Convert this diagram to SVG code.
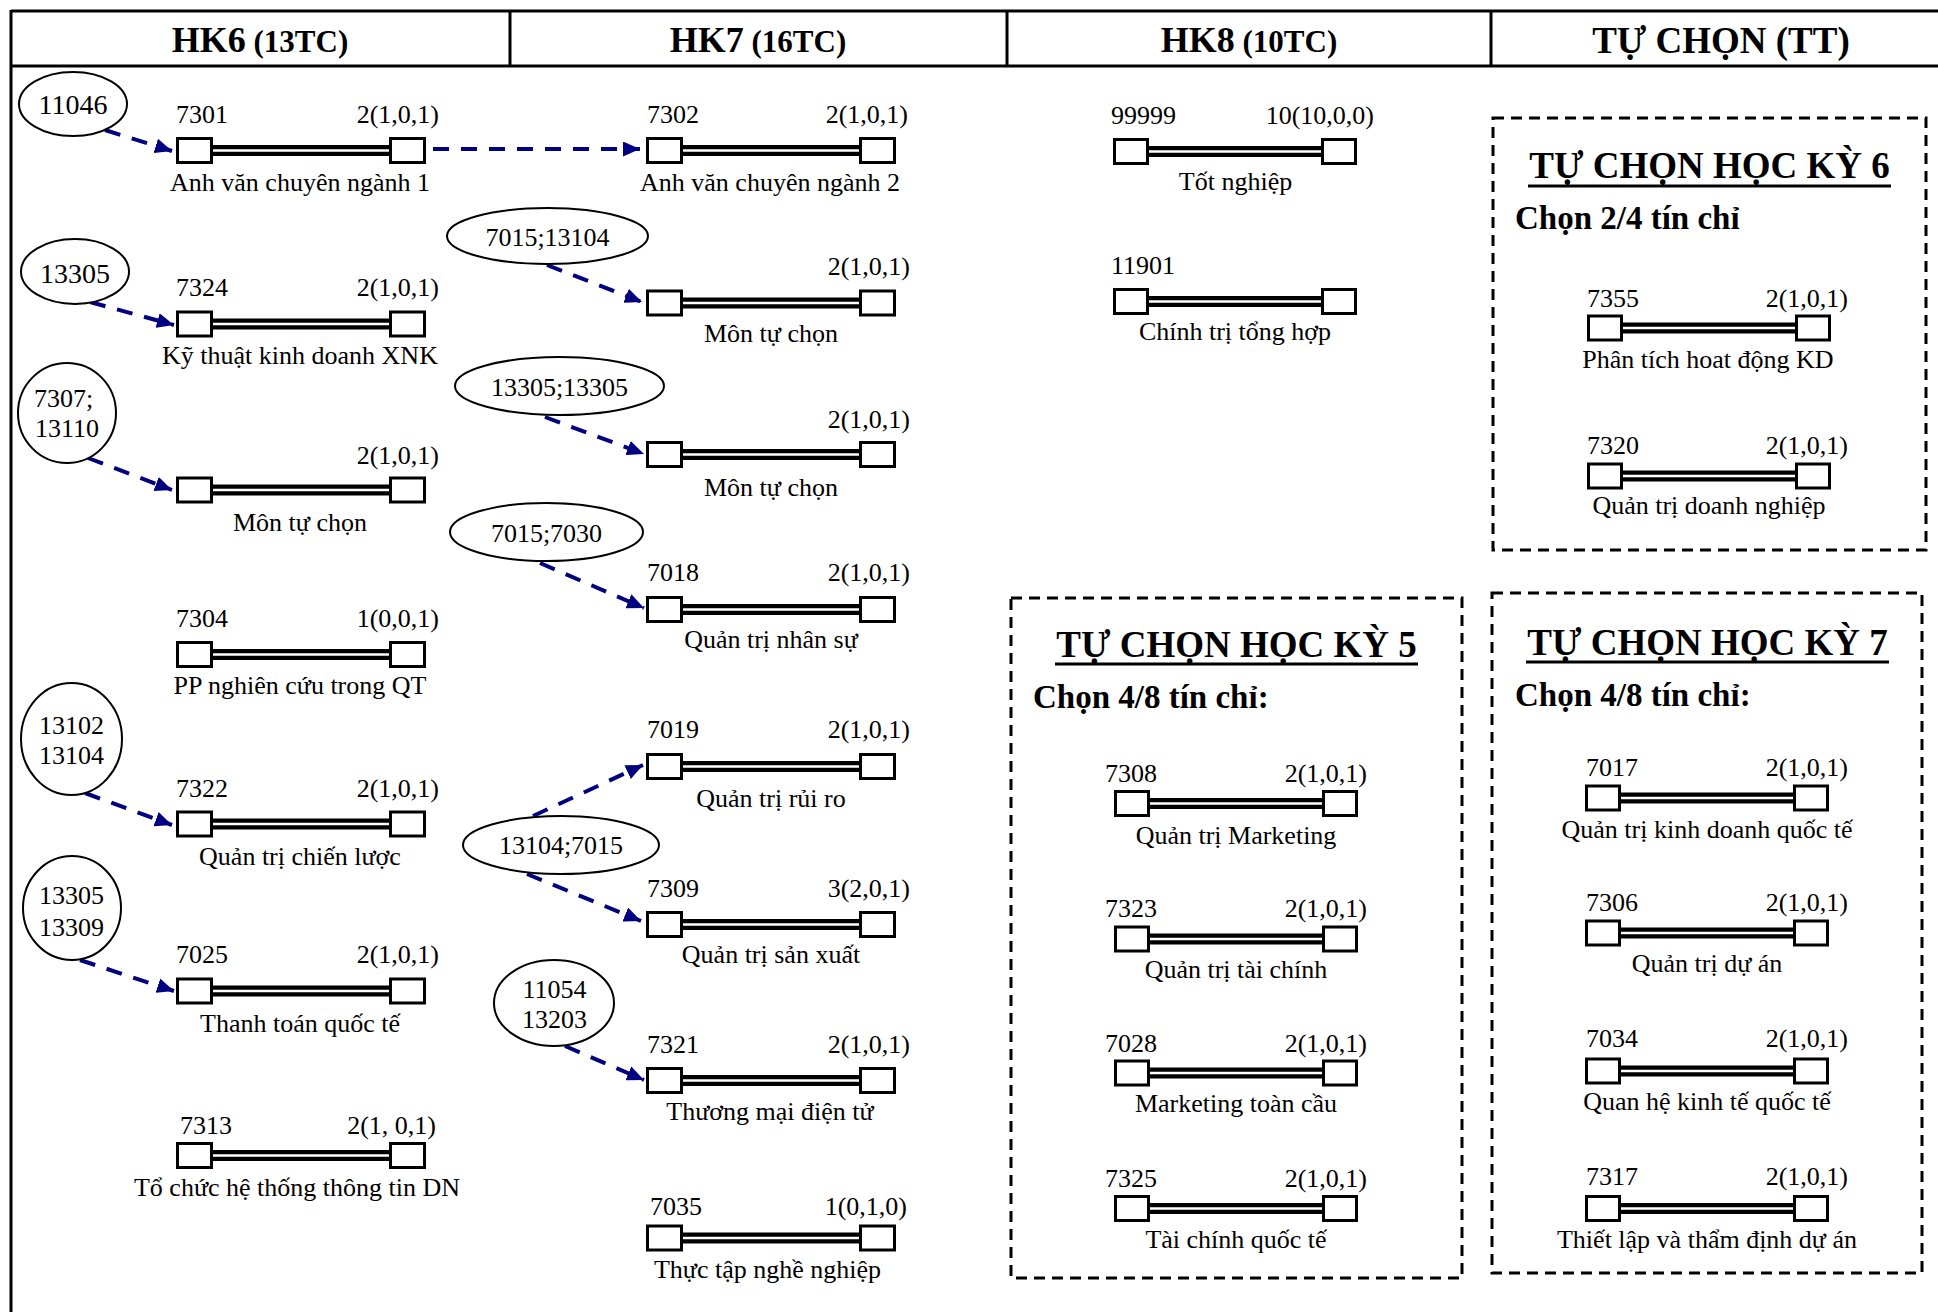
<svg xmlns="http://www.w3.org/2000/svg" xmlns:xlink="http://www.w3.org/1999/xlink" width="1938" height="1312" viewBox="0 0 1938 1312">
<style>
.t{font-family:"Liberation Serif","Times New Roman",serif;font-size:26px;fill:#000}
.m{text-anchor:middle}
.e{text-anchor:end}
.b{font-weight:bold}
.h1{font-size:37px}
.h2{font-size:33px}
.s28{font-size:28px}
.ell{fill:#fff;stroke:#000;stroke-width:2}
.dash{fill:none;stroke:#000;stroke-width:3;stroke-dasharray:11 7}
.arr{fill:none;stroke:#000080;stroke-width:4;stroke-dasharray:16 12;marker-end:url(#ah)}
.fr{stroke:#000;stroke-width:3;fill:none}
.ul{stroke:#000;stroke-width:3}
.bx{fill:#fff;stroke:#000;stroke-width:3}
</style>
<defs>
<marker id="ah" markerUnits="userSpaceOnUse" markerWidth="17" markerHeight="15" refX="17" refY="7.5" orient="auto">
<path d="M0,0 L17,7.5 L0,15 z" fill="#000080"/>
</marker>
<g id="b250">
<line x1="36" y1="0" x2="214" y2="0" stroke="#000" stroke-width="11"/>
<line x1="36" y1="0" x2="214" y2="0" stroke="#fff" stroke-width="2.5"/>
<rect class="bx" x="1.5" y="-12" width="34" height="24"/>
<rect class="bx" x="214.5" y="-12" width="34" height="24"/>
</g>
<g id="b244">
<line x1="35" y1="0" x2="209" y2="0" stroke="#000" stroke-width="11"/>
<line x1="35" y1="0" x2="209" y2="0" stroke="#fff" stroke-width="2.5"/>
<rect class="bx" x="1.5" y="-12" width="33" height="24"/>
<rect class="bx" x="209.5" y="-12" width="33" height="24"/>
</g>
</defs>
<rect width="1938" height="1312" fill="#fff"/>

<g id="frame">
<line class="fr" x1="11" y1="11" x2="1938" y2="11"/>
<line class="fr" x1="11" y1="66" x2="1938" y2="66"/>
<line class="fr" x1="11" y1="10" x2="11" y2="1312"/>
<line class="fr" x1="510" y1="11" x2="510" y2="66"/>
<line class="fr" x1="1007" y1="11" x2="1007" y2="66"/>
<line class="fr" x1="1491" y1="11" x2="1491" y2="66"/>
<text class="t m b" x="260" y="52"><tspan style="font-size:36px">HK6</tspan><tspan style="font-size:31px"> (13TC)</tspan></text>
<text class="t m b" x="758" y="52"><tspan style="font-size:36px">HK7</tspan><tspan style="font-size:31px"> (16TC)</tspan></text>
<text class="t m b" x="1249" y="52"><tspan style="font-size:36px">HK8</tspan><tspan style="font-size:31px"> (10TC)</tspan></text>
<text class="t m b h1" x="1721" y="53">TỰ CHỌN (TT)</text>
</g>

<g id="group-hk5">
<rect class="dash" x="1011" y="598" width="451" height="680"/>
<text class="t m b h1" x="1236.5" y="657">TỰ CHỌN HỌC KỲ 5</text>
<line class="ul" x1="1055" y1="664" x2="1418" y2="664"/>
<text class="t b h2" x="1033" y="708">Chọn 4/8 tín chỉ:</text>
</g>
<g id="group-hk6">
<rect class="dash" x="1493" y="118" width="433" height="432"/>
<text class="t m b h1" x="1709.5" y="178">TỰ CHỌN HỌC KỲ 6</text>
<line class="ul" x1="1528" y1="186" x2="1891" y2="186"/>
<text class="t b h2" x="1515" y="229">Chọn 2/4 tín chỉ</text>
</g>
<g id="group-hk7">
<rect class="dash" x="1492" y="593" width="430" height="680"/>
<text class="t m b h1" x="1707.5" y="655">TỰ CHỌN HỌC KỲ 7</text>
<line class="ul" x1="1526" y1="662" x2="1889" y2="662"/>
<text class="t b h2" x="1515" y="706">Chọn 4/8 tín chỉ:</text>
</g>

<g id="connectors">
<line class="arr" x1="105" y1="130" x2="172" y2="151"/>
<line class="arr" x1="90" y1="302" x2="174" y2="325"/>
<line class="arr" x1="88" y1="458" x2="172" y2="490"/>
<line class="arr" x1="85" y1="793" x2="172" y2="825"/>
<line class="arr" x1="80" y1="960" x2="174" y2="991"/>
<line class="arr" x1="433" y1="149" x2="640" y2="149"/>
<line class="arr" x1="547" y1="265" x2="642" y2="302"/>
<line class="arr" x1="545" y1="417" x2="644" y2="454"/>
<line class="arr" x1="540" y1="563" x2="644" y2="608"/>
<line class="arr" x1="533" y1="816" x2="643" y2="765"/>
<line class="arr" x1="527" y1="874" x2="641" y2="921"/>
<line class="arr" x1="565" y1="1046" x2="644" y2="1080"/>
</g>

<g id="p11046"><ellipse class="ell" cx="73" cy="104" rx="54" ry="32"/><text class="t m s28" x="73" y="114">11046</text></g>
<g id="p13305a"><ellipse class="ell" cx="75" cy="271.5" rx="54" ry="32.5"/><text class="t m s28" x="75" y="283">13305</text></g>
<g id="p7307"><ellipse class="ell" cx="67" cy="413" rx="49" ry="50"/><text class="t" x="34" y="407">7307;</text><text class="t" x="35" y="437">13110</text></g>
<g id="p13102"><ellipse class="ell" cx="71.5" cy="739" rx="50.5" ry="56"/><text class="t m" x="71.5" y="734">13102</text><text class="t m" x="71.5" y="764">13104</text></g>
<g id="p13305b"><ellipse class="ell" cx="72" cy="908" rx="49" ry="52"/><text class="t m" x="71.5" y="904">13305</text><text class="t m" x="71.5" y="936">13309</text></g>
<g id="p7015a"><ellipse class="ell" cx="547.5" cy="236" rx="100.5" ry="28"/><text class="t m" x="547.5" y="246">7015;13104</text></g>
<g id="p13305c"><ellipse class="ell" cx="559.5" cy="386" rx="104.5" ry="29"/><text class="t m" x="559.5" y="396">13305;13305</text></g>
<g id="p7015b"><ellipse class="ell" cx="546.5" cy="532" rx="96.5" ry="29"/><text class="t m" x="546.5" y="542">7015;7030</text></g>
<g id="p13104"><ellipse class="ell" cx="561" cy="845" rx="98" ry="29"/><text class="t m" x="561" y="854">13104;7015</text></g>
<g id="p11054"><ellipse class="ell" cx="554" cy="1003" rx="60" ry="43"/><text class="t m" x="554.5" y="998">11054</text><text class="t m" x="554.5" y="1028">13203</text></g>

<g id="c7301"><use xlink:href="#b250" x="176" y="150.5"/><text class="t" x="176" y="123">7301</text><text class="t e" x="439" y="123">2(1,0,1)</text><text class="t m" x="300" y="191">Anh văn chuyên ngành 1</text></g>
<g id="c7324"><use xlink:href="#b250" x="176" y="324"/><text class="t" x="176" y="296">7324</text><text class="t e" x="439" y="296">2(1,0,1)</text><text class="t m" x="300" y="364">Kỹ thuật kinh doanh XNK</text></g>
<g id="c-tc6"><use xlink:href="#b250" x="176" y="490"/><text class="t e" x="439" y="464">2(1,0,1)</text><text class="t m" x="300" y="531">Môn tự chọn</text></g>
<g id="c7304"><use xlink:href="#b250" x="176" y="654.5"/><text class="t" x="176" y="627">7304</text><text class="t e" x="439" y="627">1(0,0,1)</text><text class="t m" x="300" y="694">PP nghiên cứu trong QT</text></g>
<g id="c7322"><use xlink:href="#b250" x="176" y="824"/><text class="t" x="176" y="797">7322</text><text class="t e" x="439" y="797">2(1,0,1)</text><text class="t m" x="300" y="865">Quản trị chiến lược</text></g>
<g id="c7025"><use xlink:href="#b250" x="176" y="991"/><text class="t" x="176" y="963">7025</text><text class="t e" x="439" y="963">2(1,0,1)</text><text class="t m" x="300" y="1032">Thanh toán quốc tế</text></g>
<g id="c7313"><use xlink:href="#b250" x="176" y="1155.5"/><text class="t" x="180" y="1134">7313</text><text class="t e" x="436" y="1134">2(1, 0,1)</text><text class="t m" x="297" y="1196">Tổ chức hệ thống thông tin DN</text></g>

<g id="c7302"><use xlink:href="#b250" x="646" y="150.5"/><text class="t" x="647" y="123">7302</text><text class="t e" x="908" y="123">2(1,0,1)</text><text class="t m" x="770" y="191">Anh văn chuyên ngành 2</text></g>
<g id="c-tc7a"><use xlink:href="#b250" x="646" y="303"/><text class="t e" x="910" y="275">2(1,0,1)</text><text class="t m" x="771" y="342">Môn tự chọn</text></g>
<g id="c-tc7b"><use xlink:href="#b250" x="646" y="454.5"/><text class="t e" x="910" y="428">2(1,0,1)</text><text class="t m" x="771" y="496">Môn tự chọn</text></g>
<g id="c7018"><use xlink:href="#b250" x="646" y="609.5"/><text class="t" x="647" y="581">7018</text><text class="t e" x="910" y="581">2(1,0,1)</text><text class="t m" x="771" y="648">Quản trị nhân sự</text></g>
<g id="c7019"><use xlink:href="#b250" x="646" y="766.5"/><text class="t" x="647" y="738">7019</text><text class="t e" x="910" y="738">2(1,0,1)</text><text class="t m" x="771" y="807">Quản trị rủi ro</text></g>
<g id="c7309"><use xlink:href="#b250" x="646" y="924.5"/><text class="t" x="647" y="897">7309</text><text class="t e" x="910" y="897">3(2,0,1)</text><text class="t m" x="771" y="963">Quản trị sản xuất</text></g>
<g id="c7321"><use xlink:href="#b250" x="646" y="1080.5"/><text class="t" x="647" y="1053">7321</text><text class="t e" x="910" y="1053">2(1,0,1)</text><text class="t m" x="770" y="1120">Thương mại điện tử</text></g>
<g id="c7035"><use xlink:href="#b250" x="646" y="1238"/><text class="t" x="650" y="1215">7035</text><text class="t e" x="907" y="1215">1(0,1,0)</text><text class="t m" x="767.5" y="1278">Thực tập nghề nghiệp</text></g>

<g id="c99999"><use xlink:href="#b244" x="1113" y="151.5"/><text class="t" x="1111" y="124">99999</text><text class="t e" x="1374" y="124">10(10,0,0)</text><text class="t m" x="1235.5" y="190">Tốt nghiệp</text></g>
<g id="c11901"><use xlink:href="#b244" x="1113" y="301.5"/><text class="t" x="1111" y="274">11901</text><text class="t m" x="1235" y="340">Chính trị tổng hợp</text></g>

<g id="c7308"><use xlink:href="#b244" x="1114" y="803.5"/><text class="t" x="1105" y="782">7308</text><text class="t e" x="1367" y="782">2(1,0,1)</text><text class="t m" x="1236" y="844">Quản trị Marketing</text></g>
<g id="c7323"><use xlink:href="#b244" x="1114" y="939"/><text class="t" x="1105" y="917">7323</text><text class="t e" x="1367" y="917">2(1,0,1)</text><text class="t m" x="1236" y="978">Quản trị tài chính</text></g>
<g id="c7028"><use xlink:href="#b244" x="1114" y="1073"/><text class="t" x="1105" y="1051.5">7028</text><text class="t e" x="1367" y="1051.5">2(1,0,1)</text><text class="t m" x="1236" y="1112">Marketing toàn cầu</text></g>
<g id="c7325"><use xlink:href="#b244" x="1114" y="1208.5"/><text class="t" x="1105" y="1187">7325</text><text class="t e" x="1367" y="1187">2(1,0,1)</text><text class="t m" x="1236" y="1247.5">Tài chính quốc tế</text></g>

<g id="c7355"><use xlink:href="#b244" x="1587" y="328"/><text class="t" x="1587" y="307">7355</text><text class="t e" x="1848" y="307">2(1,0,1)</text><text class="t m" x="1708" y="368">Phân tích hoat động KD</text></g>
<g id="c7320"><use xlink:href="#b244" x="1587" y="476"/><text class="t" x="1587" y="453.5">7320</text><text class="t e" x="1848" y="453.5">2(1,0,1)</text><text class="t m" x="1709" y="514">Quản trị doanh nghiệp</text></g>

<g id="c7017"><use xlink:href="#b244" x="1585" y="798"/><text class="t" x="1586" y="776">7017</text><text class="t e" x="1848" y="776">2(1,0,1)</text><text class="t m" x="1707" y="838">Quản trị kinh doanh quốc tế</text></g>
<g id="c7306"><use xlink:href="#b244" x="1585" y="933"/><text class="t" x="1586" y="910.5">7306</text><text class="t e" x="1848" y="910.5">2(1,0,1)</text><text class="t m" x="1707" y="972">Quản trị dự án</text></g>
<g id="c7034"><use xlink:href="#b244" x="1585" y="1071"/><text class="t" x="1586" y="1047">7034</text><text class="t e" x="1848" y="1047">2(1,0,1)</text><text class="t m" x="1707" y="1110">Quan hệ kinh tế quốc tế</text></g>
<g id="c7317"><use xlink:href="#b244" x="1585" y="1208.5"/><text class="t" x="1586" y="1184.5">7317</text><text class="t e" x="1848" y="1184.5">2(1,0,1)</text><text class="t m" x="1707" y="1247.5">Thiết lập và thẩm định dự án</text></g>
</svg>
